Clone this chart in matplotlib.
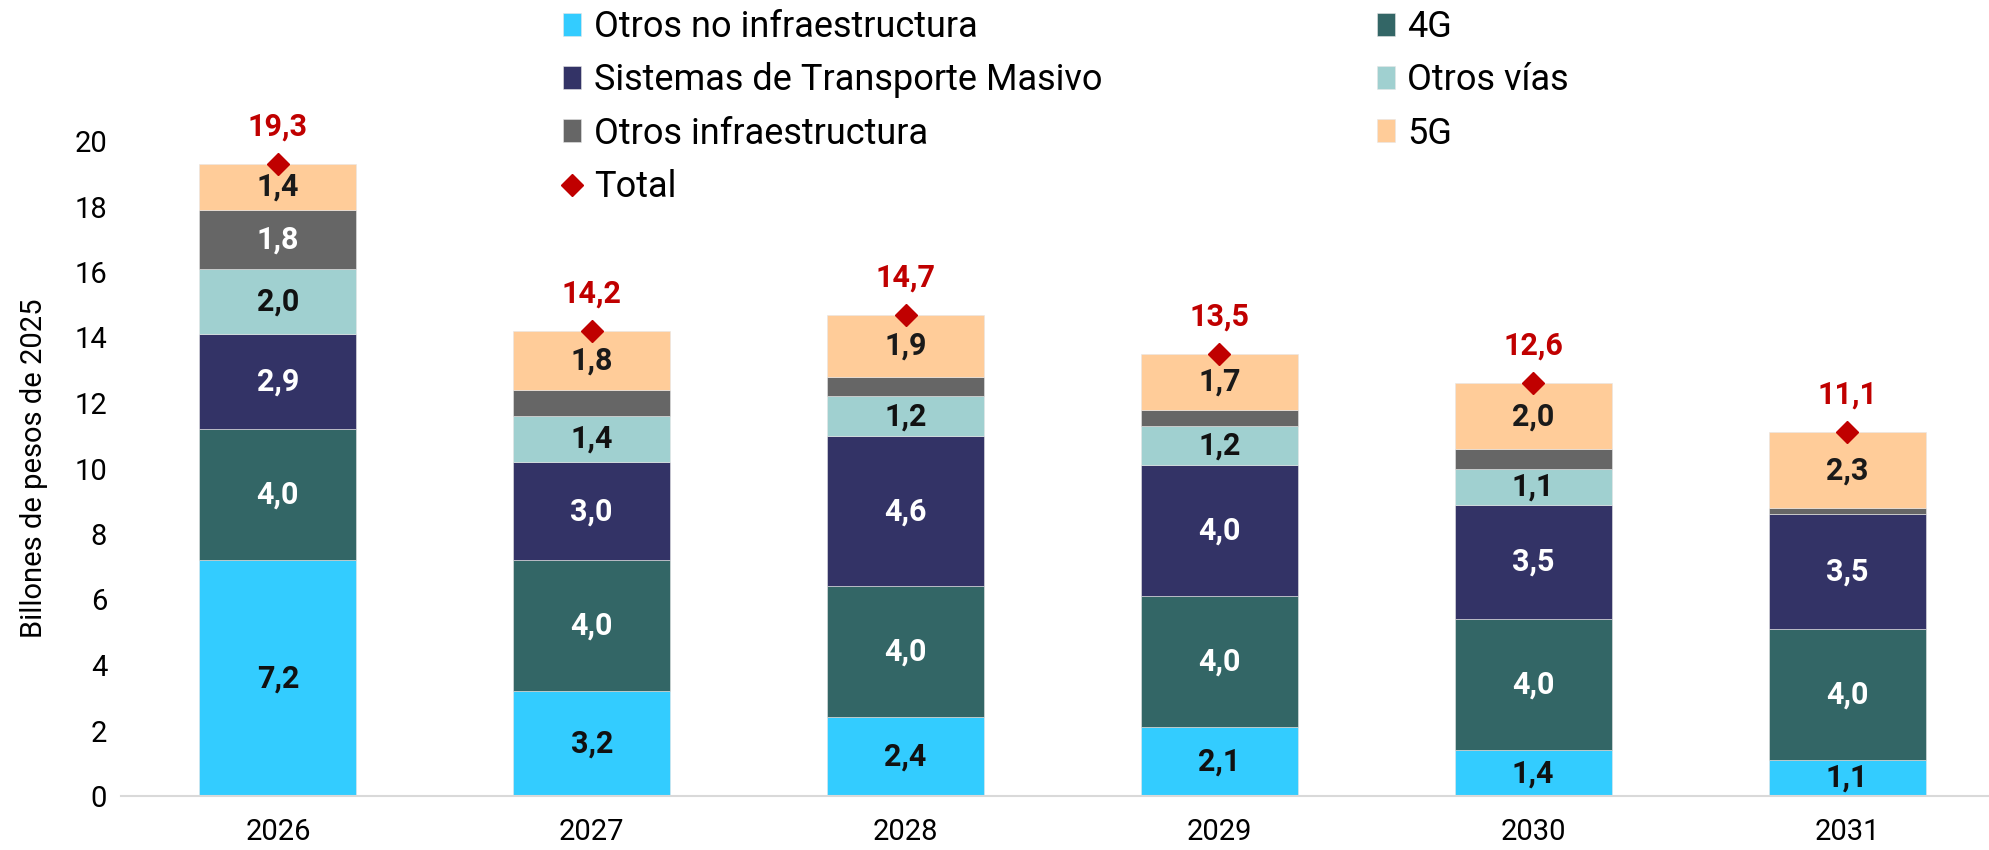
import numpy as np
import matplotlib.pyplot as plt
from matplotlib.lines import Line2D

plt.rcParams['font.family'] = ['Roboto', 'DejaVu Sans']

# datos (billones de pesos de 2025)
years = ['2026', '2027', '2028', '2029', '2030', '2031']
otros_no_infra = [7.2, 3.2, 2.4, 2.1, 1.4, 1.1]
g4 = [4.0, 4.0, 4.0, 4.0, 4.0, 4.0]
transporte_masivo = [2.9, 3.0, 4.6, 4.0, 3.5, 3.5]
otros_vias = [2.0, 1.4, 1.2, 1.2, 1.1, 0.0]
otros_infra = [1.8, 0.8, 0.6, 0.5, 0.6, 0.2]
g5 = [1.4, 1.8, 1.9, 1.7, 2.0, 2.3]
total = [19.3, 14.2, 14.7, 13.5, 12.6, 11.1]

series = [
    ('Otros no infraestructura', otros_no_infra, '#33CCFF', '#111111'),
    ('4G', g4, '#336666', 'white'),
    ('Sistemas de Transporte Masivo', transporte_masivo, '#333366', 'white'),
    ('Otros vías', otros_vias, '#A0D0D0', '#111111'),
    ('Otros infraestructura', otros_infra, '#666666', 'white'),
    ('5G', g5, '#FFCC99', '#1A1A1A'),
]

fig = plt.figure(figsize=(19.9, 8.5), dpi=100)
ax = fig.add_axes([121 / 1990, 54 / 850, (2004 - 121) / 1990, (796 - 141) / 850])

x = np.arange(len(years))
bottom = np.zeros(len(years))
handles = {}
for name, vals, color, tcol in series:
    vals = np.array(vals)
    bars = ax.bar(x, vals, width=0.5, bottom=bottom, color=color,
                  edgecolor='#E6E6E6', linewidth=0.4)
    handles[name] = bars
    for xi, b, v in zip(x, bottom, vals):
        if v >= 1.0:
            ax.text(xi, b + v / 2, f'{v:.1f}'.replace('.', ','), ha='center', va='center',
                    color=tcol, fontsize=22, fontweight='bold')
    bottom = bottom + vals

ax.plot(x, total, linestyle='none', marker='D', markersize=11, color='#C00000', clip_on=False, zorder=5)
for xi, t in zip(x, total):
    ax.annotate(f'{t:.1f}'.replace('.', ','), (xi, t), xytext=(0, 27), textcoords='offset points',
                ha='center', va='center', color='#C00000', fontsize=22, fontweight='bold',
                annotation_clip=False)

ax.set_xlim(-0.5, 5.5)
ax.set_ylim(0, 20)
ax.set_yticks(np.arange(0, 21, 2))
ax.set_xticks(x)
ax.set_xticklabels(years)
ax.tick_params(axis='both', length=0, labelsize=21)
ax.tick_params(axis='x', pad=16)
ax.tick_params(axis='y', pad=10)
for s in ['top', 'right', 'left']:
    ax.spines[s].set_visible(False)
ax.spines['bottom'].set_color('#D9D9D9')
ax.spines['bottom'].set_linewidth(1.5)
ax.set_ylabel('Billones de pesos de 2025', fontsize=21, labelpad=19)

total_handle = Line2D([], [], linestyle='none', marker='D', markersize=11, color='#C00000')
names = ['Otros no infraestructura', 'Sistemas de Transporte Masivo', 'Otros infraestructura']
leg_h = [handles[n] for n in names] + [total_handle] + [handles[n] for n in ['4G', 'Otros vías', '5G']]
leg_l = names + ['Total', '4G', 'Otros vías', '5G']
fig.legend(leg_h, leg_l, ncol=2, loc='upper left', bbox_to_anchor=(563 / 1990, 1 - 9 / 850),
           frameon=False, fontsize=26, handlelength=0.5, handleheight=0.6, handletextpad=0.35,
           columnspacing=7.6, labelspacing=0.48, borderpad=0, borderaxespad=0)

fig.savefig('out.png', dpi=100)
